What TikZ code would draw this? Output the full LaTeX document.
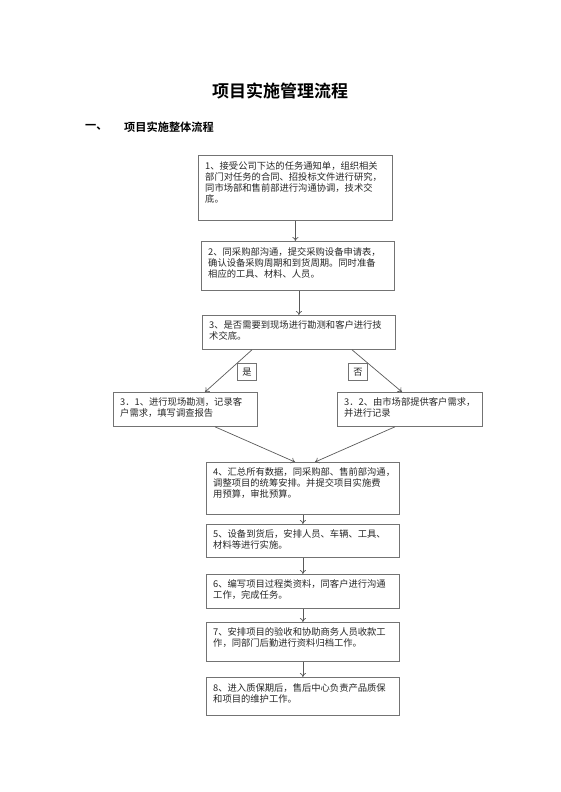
\documentclass[tikz,border=0pt]{standalone}
\usepackage{fontspec}
\setmainfont{Noto Sans CJK SC}
\newfontfamily\cjkbold{Noto Sans CJK SC Bold}
\usetikzlibrary{arrows.meta,calc}
\tikzset{
  flowbox/.style={draw=black!55, line width=0.8pt, minimum height=#1, inner sep=0pt, anchor=north west},
  flowtext/.style={anchor=north west, inner sep=0pt, align=left, font=\fontsize{9.3}{11}\selectfont, text=black!85},
  conn/.style={draw=black!65, line width=0.7pt, -{To[length=4pt,width=6pt]}},
}
\begin{document}
\begin{tikzpicture}[x=1pt,y=-1pt]
\useasboundingbox (0,0) rectangle (560,792);
\node[font=\cjkbold\fontsize{17}{20}\selectfont] (title) at (280,91) {项目实施管理流程};
\node[font=\cjkbold\fontsize{11.2}{13}\selectfont, anchor=west, inner sep=0pt] (sec) at (85,127) {一、};
\node[font=\cjkbold\fontsize{11.2}{13}\selectfont, anchor=west, inner sep=0pt] (sect) at (124,127) {项目实施整体流程};

\node[flowbox=65pt, minimum width=194pt] (b1) at (198,155) {};
\node[flowtext] (t1) at ([xshift=7pt,yshift=-6pt]b1.north west) {1、接受公司下达的任务通知单，组织相关\\部门对任务的合同、招投标文件进行研究，\\同市场部和售前部进行沟通协调，技术交\\底。};

\node[flowbox=49pt, minimum width=193pt] (b2) at (201,241) {};
\node[flowtext] (t2) at ([xshift=7pt,yshift=-6pt]b2.north west) {2、同采购部沟通，提交采购设备申请表，\\确认设备采购周期和到货周期。同时准备\\相应的工具、材料、人员。};

\node[flowbox=34pt, minimum width=193pt] (b3) at (202,315) {};
\node[flowtext] (t3) at ([xshift=7pt,yshift=-5pt]b3.north west) {3、是否需要到现场进行勘测和客户进行技\\术交底。};

\node[flowbox=17pt, minimum width=19pt] (yes) at (237,363) {};
\node[flowtext, anchor=center] (tyes) at (yes.center) {是};
\node[flowbox=17pt, minimum width=19pt] (no) at (348,363) {};
\node[flowtext, anchor=center] (tno) at (no.center) {否};

\node[flowbox=34pt, minimum width=144pt] (b31) at (113,392) {};
\node[flowtext] (t31) at ([xshift=7pt,yshift=-5pt]b31.north west) {3．1、进行现场勘测，记录客\\户需求，填写调查报告};

\node[flowbox=34pt, minimum width=145pt] (b32) at (337,392) {};
\node[flowtext] (t32) at ([xshift=7pt,yshift=-5pt]b32.north west) {3．2、由市场部提供客户需求，\\并进行记录};

\node[flowbox=52pt, minimum width=193pt] (b4) at (206,462) {};
\node[flowtext] (t4) at ([xshift=7pt,yshift=-5pt]b4.north west) {4、汇总所有数据，同采购部、售前部沟通，\\调整项目的统筹安排。并提交项目实施费\\用预算，审批预算。};

\node[flowbox=33pt, minimum width=193pt] (b5) at (206,524) {};
\node[flowtext] (t5) at ([xshift=7pt,yshift=-5pt]b5.north west) {5、设备到货后，安排人员、车辆、工具、\\材料等进行实施。};

\node[flowbox=34pt, minimum width=193pt] (b6) at (206,574) {};
\node[flowtext] (t6) at ([xshift=7pt,yshift=-5pt]b6.north west) {6、编写项目过程类资料，同客户进行沟通\\工作，完成任务。};

\node[flowbox=39pt, minimum width=193pt] (b7) at (206,622) {};
\node[flowtext] (t7) at ([xshift=7pt,yshift=-5pt]b7.north west) {7、安排项目的验收和协助商务人员收款工\\作，同部门后勤进行资料归档工作。};

\node[flowbox=38pt, minimum width=193pt] (b8) at (206,677) {};
\node[flowtext] (t8) at ([xshift=7pt,yshift=-6pt]b8.north west) {8、进入质保期后，售后中心负责产品质保\\和项目的维护工作。};

\draw[conn] (b1.south) -- (b1.south |- b2.north);
\draw[conn] ([xshift=1pt]b2.south) -- ([xshift=1pt]b2.south |- b3.north);
\draw[conn] ([xshift=50pt]b3.south west) -- ([xshift=92pt]b31.north west);
\draw[conn] ([xshift=150pt]b3.south west) -- ([xshift=65pt]b32.north west);
\draw[conn] ([xshift=102pt]b31.south west) -- ([xshift=89pt]b4.north west);
\draw[conn] ([xshift=58pt]b32.south west) -- ([xshift=109pt]b4.north west);
\draw[conn] (b4.south) -- (b4.south |- b5.north);
\draw[conn] (b5.south) -- (b5.south |- b6.north);
\draw[conn] (b6.south) -- (b6.south |- b7.north);
\draw[conn] (b7.south) -- (b7.south |- b8.north);
\end{tikzpicture}
\end{document}
